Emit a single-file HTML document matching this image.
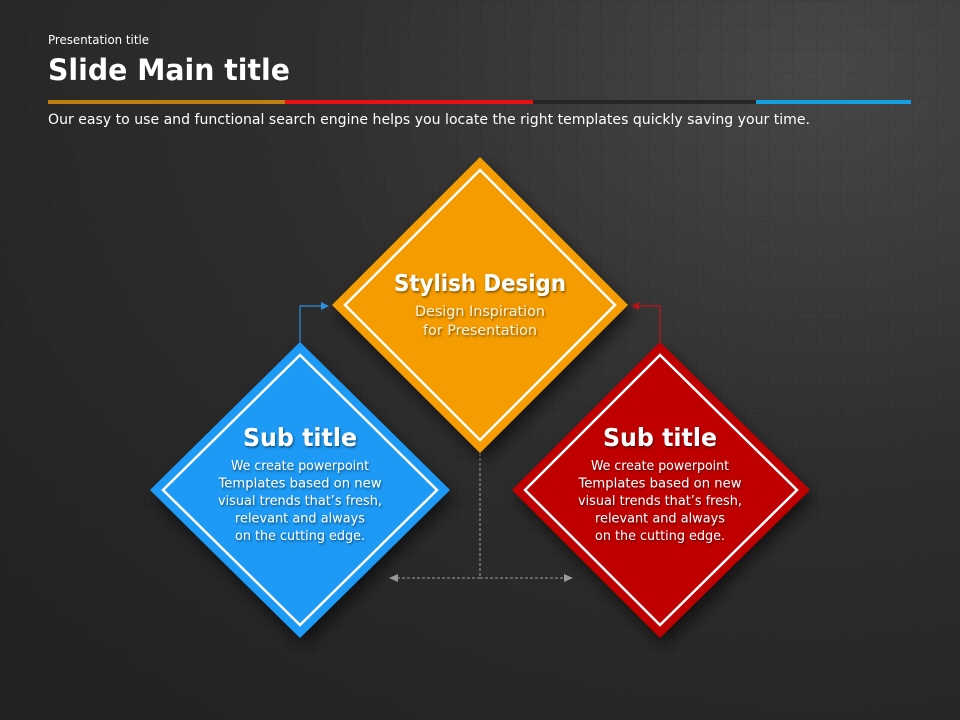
<!DOCTYPE html>
<html><head><meta charset="utf-8"><style>
html,body{margin:0;padding:0;}
body{width:960px;height:720px;overflow:hidden;background:#2a2a2a;font-family:"DejaVu Sans","Liberation Sans",sans-serif;}
</style></head><body>
<svg width="960" height="720" viewBox="0 0 960 720" xmlns="http://www.w3.org/2000/svg" style="display:block" font-family="DejaVu Sans, Liberation Sans, sans-serif">
<defs>
<radialGradient id="bg" cx="0.85" cy="0.1" r="1.1">
<stop offset="0" stop-color="#474747"/><stop offset="0.5" stop-color="#2e2e2e"/><stop offset="1" stop-color="#232323"/>
</radialGradient>
<pattern id="grid" width="24" height="24" patternUnits="userSpaceOnUse">
<path d="M24 0H0V24" fill="none" stroke="#000" stroke-opacity="0.12" stroke-width="1"/>
</pattern>
<filter id="sh" x="-30%" y="-30%" width="160%" height="160%">
<feGaussianBlur in="SourceAlpha" stdDeviation="8"/><feOffset dx="4" dy="8"/>
<feComponentTransfer><feFuncA type="linear" slope="0.6"/></feComponentTransfer>
<feMerge><feMergeNode/><feMergeNode in="SourceGraphic"/></feMerge>
</filter>
<filter id="ts"><feDropShadow dx="1" dy="1.5" stdDeviation="1" flood-color="#000" flood-opacity="0.5"/></filter>
<marker id="ab" markerWidth="8" markerHeight="8" refX="7" refY="4" orient="auto" markerUnits="userSpaceOnUse"><path d="M0 0L8 4L0 8z" fill="#2b8fe0"/></marker>
<marker id="ar" markerWidth="8" markerHeight="8" refX="7" refY="4" orient="auto" markerUnits="userSpaceOnUse"><path d="M0 0L8 4L0 8z" fill="#c0141a"/></marker>
<marker id="ag" markerWidth="9" markerHeight="8" refX="8" refY="4" orient="auto" markerUnits="userSpaceOnUse"><path d="M0 0L9 4L0 8z" fill="#9a9a9a"/></marker>
</defs>
<rect width="960" height="720" fill="url(#bg)"/>
<rect width="960" height="720" fill="url(#grid)"/>

<g lengthAdjust="spacingAndGlyphs">
<text x="48" y="44" font-size="12" fill="#fff" textLength="101" lengthAdjust="spacingAndGlyphs">Presentation title</text>
<text x="48" y="80" font-size="29" font-weight="bold" fill="#fff" textLength="242" lengthAdjust="spacingAndGlyphs">Slide Main title</text>
<text x="48" y="124" font-size="14" fill="#fff" textLength="762" lengthAdjust="spacingAndGlyphs">Our easy to use and functional search engine helps you locate the right templates quickly saving your time.</text>
</g>
<rect x="48" y="100" width="237" height="4" fill="#c07d10"/>
<rect x="285" y="100" width="248" height="4" fill="#e81010"/>
<rect x="533" y="100" width="223" height="4" fill="#262626"/>
<rect x="756" y="100" width="155" height="4" fill="#12a0e0"/>

<!-- connectors -->
<polyline points="300,342 300,306 328,306" fill="none" stroke="#2b8fe0" stroke-width="1.2" marker-end="url(#ab)"/>
<polyline points="660,342 660,306 632,306" fill="none" stroke="#c0141a" stroke-width="1.2" marker-end="url(#ar)"/>
<line x1="480" y1="453" x2="480" y2="578" stroke="#a0a0a0" stroke-width="1" stroke-dasharray="3,2"/>
<line x1="480" y1="578" x2="572" y2="578" stroke="#a0a0a0" stroke-width="1" stroke-dasharray="3,2" marker-end="url(#ag)"/>
<line x1="480" y1="578" x2="390" y2="578" stroke="#a0a0a0" stroke-width="1" stroke-dasharray="3,2" marker-end="url(#ag)"/>

<!-- orange -->
<g filter="url(#sh)"><polygon points="480,157 628,305 480,453 332,305" fill="#f59c00"/></g>
<polygon points="480,170 615,305 480,440 345,305" fill="none" stroke="#fff" stroke-width="2.5"/>
<g filter="url(#ts)" text-anchor="middle">
<text x="480" y="291" font-size="23" font-weight="bold" fill="#fff" textLength="172" lengthAdjust="spacingAndGlyphs">Stylish Design</text>
<text x="480" y="316" font-size="14.5" fill="#fdf0d6" textLength="130" lengthAdjust="spacingAndGlyphs">Design Inspiration</text>
<text x="480" y="335" font-size="14.5" fill="#fdf0d6" textLength="114" lengthAdjust="spacingAndGlyphs">for Presentation</text>
</g>

<!-- blue -->
<g filter="url(#sh)"><polygon points="300,342 450,490 300,638 150,490" fill="#1e9af5"/></g>
<polygon points="300,355 437,490 300,625 163,490" fill="none" stroke="#fff" stroke-width="2.5"/>
<g filter="url(#ts)" text-anchor="middle" fill="#fff">
<text x="300" y="446" font-size="25" font-weight="bold" textLength="114" lengthAdjust="spacingAndGlyphs">Sub title</text>
<text x="300" y="470" font-size="13.5" textLength="138" lengthAdjust="spacingAndGlyphs">We create powerpoint</text>
<text x="300" y="487.5" font-size="13.5" textLength="163" lengthAdjust="spacingAndGlyphs">Templates based on new</text>
<text x="300" y="505" font-size="13.5" textLength="164" lengthAdjust="spacingAndGlyphs">visual trends that’s fresh,</text>
<text x="300" y="522.5" font-size="13.5" textLength="130" lengthAdjust="spacingAndGlyphs">relevant and always</text>
<text x="300" y="540" font-size="13.5" textLength="130" lengthAdjust="spacingAndGlyphs">on the cutting edge.</text>
</g>

<!-- red -->
<g filter="url(#sh)"><polygon points="660,342 810,490 660,638 512,490" fill="#bf0000"/></g>
<polygon points="660,355 797,490 660,625 525,490" fill="none" stroke="#fff" stroke-width="2.5"/>
<g filter="url(#ts)" text-anchor="middle" fill="#fff">
<text x="660" y="446" font-size="25" font-weight="bold" textLength="114" lengthAdjust="spacingAndGlyphs">Sub title</text>
<text x="660" y="470" font-size="13.5" textLength="138" lengthAdjust="spacingAndGlyphs">We create powerpoint</text>
<text x="660" y="487.5" font-size="13.5" textLength="163" lengthAdjust="spacingAndGlyphs">Templates based on new</text>
<text x="660" y="505" font-size="13.5" textLength="164" lengthAdjust="spacingAndGlyphs">visual trends that’s fresh,</text>
<text x="660" y="522.5" font-size="13.5" textLength="130" lengthAdjust="spacingAndGlyphs">relevant and always</text>
<text x="660" y="540" font-size="13.5" textLength="130" lengthAdjust="spacingAndGlyphs">on the cutting edge.</text>
</g>
</svg>
</body></html>
